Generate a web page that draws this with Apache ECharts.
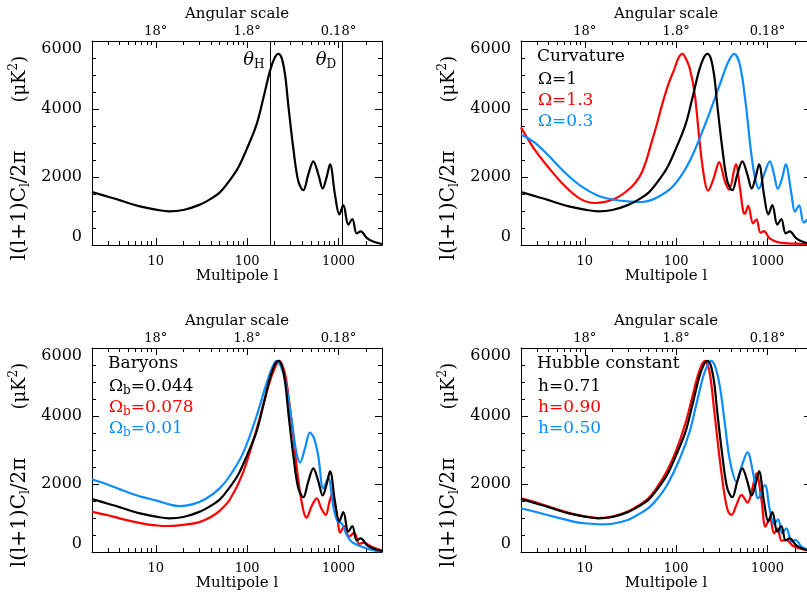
<!DOCTYPE html>
<html>
<head>
<meta charset="utf-8">
<script src="https://cdn.jsdelivr.net/npm/echarts@6/dist/echarts.min.js"></script>
<style>
  html, body { margin: 0; padding: 0; background: #fff; }
  #chart { width: 807px; height: 592px; }
</style>
</head>
<body>
<div id="chart"></div>
<script>
// ---- axes ----
const L_RANGE = [2, 3000];
const Y_RANGE = [0, 6000];
const X_MAJOR = [10, 100, 1000];
const X_MINOR = [3, 4, 5, 6, 7, 8, 9, 20, 30, 40, 50, 60, 70, 80, 90,
                 200, 300, 400, 500, 600, 700, 800, 900, 2000];
const ANGLE_LABELS = ["18°", "1.8°", "0.18°"];
const THETA_MARKS = [{ l: 180, sub: "H" }, { l: 1100, sub: "D" }];

// ---- spectra, [multipole l, l(l+1)Cl/2pi] ----
// fiducial model: Omega=1, Omega_b=0.044, h=0.71
const FIDUCIAL = [[2,1560],[3,1420],[4,1320],[6,1170],[8,1090],[10,1040],[14,990],[20,1030],[30,1180],
  [40,1360],[50,1540],[62,1840],[80,2280],[100,2850],[127,3550],[150,4300],[178,5120],[200,5500],
  [220,5620],[240,5480],[262,4950],[282,4130],[320,2860],[363,1880],[412,1610],[468,2080],[531,2460],
  [602,2080],[673,1660],[740,1980],[809,2370],[918,1470],[1023,900],[1132,1170],[1283,600],[1420,765],
  [1585,340],[1757,400],[2040,210],[2400,100],[3000,30]];

const CURV_CLOSED = [[2,3460],[2.8,2820],[4,2280],[6,1740],[9,1350],[13,1235],[21,1350],[32,1690],
  [40,2020],[46,2400],[52,2880],[60,3450],[72,4230],[84,4800],[95,5150],[106,5500],[117,5620],
  [128,5480],[141,5200],[160,4430],[182,2960],[206,1880],[224,1600],[259,1980],[296,2440],[341,1880],
  [380,1630],[451,2370],[499,1690],[542,1000],[565,920],[615,1150],[697,635],[759,755],[839,360],
  [913,410],[1062,185],[1367,70],[2083,38],[3000,20]];

const CURV_OPEN = [[2,3240],[2.8,3020],[4,2630],[6,2140],[9,1740],[14,1450],[21,1330],[32,1275],
  [42,1265],[61,1390],[93,1735],[141,2470],[215,3650],[301,4720],[372,5380],[432,5620],[499,5300],
  [580,4130],[653,2860],[728,2000],[805,1660],[920,2080],[1062,2460],[1180,2080],[1300,1650],
  [1450,1970],[1585,2370],[1836,1480],[2000,980],[2224,1165],[2500,655],[2800,760],[3000,520]];

const BARY_HIGH = [[2,1180],[3,1080],[4,990],[6,880],[8,815],[10,785],[13,765],[20,800],[30,880],
  [40,1030],[50,1210],[65,1550],[90,2330],[127,3610],[171,4880],[200,5400],[225,5620],[250,5400],
  [271,4980],[320,3410],[380,1750],[449,1010],[510,1350],[578,1580],[650,1280],[726,1090],[800,1500],
  [855,1700],[920,1350],[982,940],[1042,570],[1162,765],[1306,450],[1493,570],[1683,235],[1875,274],
  [2317,157],[3000,40]];

const BARY_LOW = [[2,2140],[3,1980],[4,1850],[5,1750],[7,1620],[10,1520],[14,1400],[18,1350],[25,1400],
  [35,1560],[50,1870],[65,2250],[90,2900],[127,4000],[164,4980],[190,5450],[210,5620],[235,5450],
  [260,5080],[307,3900],[345,2950],[380,2630],[430,3050],[488,3510],[540,3350],[603,2800],[683,1870],
  [774,2170],[879,1330],[982,890],[1087,845],[1233,500],[1399,300],[1800,157],[2518,40],[3000,25]];

const HUB_HIGH = [[2,1580],[3,1450],[4,1340],[6,1190],[8,1100],[10,1050],[14,1000],[20,1040],[30,1200],
  [40,1390],[50,1590],[62,1910],[80,2400],[100,2980],[127,3800],[150,4550],[178,5300],[206,5620],
  [232,5300],[262,4130],[298,2800],[338,1700],[370,1200],[404,1090],[460,1400],[520,1680],[605,1450],
  [680,1850],[759,2310],[861,1530],[952,745],[1062,990],[1185,550],[1290,696],[1427,333],[1618,350],
  [1916,176],[2600,59],[3000,30]];

const HUB_LOW = [[2,1280],[3,1170],[4,1080],[6,960],[8,880],[10,845],[15,815],[20,830],[30,950],
  [40,1130],[50,1300],[62,1560],[80,1980],[111,2780],[141,3550],[166,4330],[198,5160],[222,5500],
  [244,5620],[270,5420],[300,4900],[341,3800],[387,2710],[458,2070],[520,2510],[605,2930],[698,2310],
  [791,1580],[937,1970],[1062,1235],[1185,823],[1311,961],[1448,549],[1618,696],[1836,304],[2032,353],
  [2360,157],[2680,78],[3000,40]];

// ---- panels ----
const PANELS = [
  { title: null, series: [{ name: "fiducial", data: FIDUCIAL, color: "black" }], theta: true },
  { title: "Curvature", series: [
      { name: "Ω=1", data: FIDUCIAL, color: "black" },
      { name: "Ω=1.3", data: CURV_CLOSED, color: "red" },
      { name: "Ω=0.3", data: CURV_OPEN, color: "blue" }] },
  { title: "Baryons", series: [
      { name: "Ω_b=0.044", data: FIDUCIAL, color: "black" },
      { name: "Ω_b=0.078", data: BARY_HIGH, color: "red" },
      { name: "Ω_b=0.01", data: BARY_LOW, color: "blue" }] },
  { title: "Hubble constant", series: [
      { name: "h=0.71", data: FIDUCIAL, color: "black" },
      { name: "h=0.90", data: HUB_HIGH, color: "red" },
      { name: "h=0.50", data: HUB_LOW, color: "blue" }] }
];

const COLORS = { black: "#000000", red: "#ff0000", blue: "#0a8cff" };
const FONT = "'DejaVu Serif', serif";
const GRID_POS = [[92, 41], [521, 41], [92, 348], [521, 348]];
const GRID_W = 290, GRID_H = 204;

const tickLine = { color: "#000", width: 1 };

function xAxesFor(g) {
  const base = {
    gridIndex: g, type: "log", logBase: 10, min: L_RANGE[0], max: L_RANGE[1],
    splitLine: { show: false }, minorTick: { show: false }, minorSplitLine: { show: false }
  };
  return [
    Object.assign({}, base, {
      position: "bottom",
      axisLine: { show: true, onZero: false, lineStyle: tickLine },
      axisTick: { show: true, inside: true, length: 7, customValues: X_MAJOR, lineStyle: tickLine },
      axisLabel: {
        customValues: X_MAJOR, margin: 10, color: "#000", fontSize: 13, fontFamily: FONT,
        formatter: v => String(Math.round(v))
      },
      name: "Multipole l", nameLocation: "middle", nameGap: 24,
      nameTextStyle: { color: "#000", fontSize: 15, fontFamily: FONT }
    }),
    Object.assign({}, base, {
      position: "bottom",
      axisLine: { show: false, onZero: false },
      axisTick: { show: true, inside: true, length: 4, customValues: X_MINOR, lineStyle: tickLine },
      axisLabel: { show: false }
    }),
    Object.assign({}, base, {
      position: "top",
      axisLine: { show: true, onZero: false, lineStyle: tickLine },
      axisTick: { show: true, inside: true, length: 7, customValues: X_MAJOR, lineStyle: tickLine },
      axisLabel: {
        customValues: X_MAJOR, margin: 3, color: "#000", fontSize: 13, fontFamily: FONT,
        formatter: v => ANGLE_LABELS[X_MAJOR.indexOf(Math.round(v))]
      },
      name: "Angular scale", nameLocation: "middle", nameGap: 19,
      nameTextStyle: { color: "#000", fontSize: 15, fontFamily: FONT }
    }),
    Object.assign({}, base, {
      position: "top",
      axisLine: { show: false, onZero: false },
      axisTick: { show: true, inside: true, length: 4, customValues: X_MINOR, lineStyle: tickLine },
      axisLabel: { show: false }
    })
  ];
}

const Y_NAME = "{a|l(l+1)C}{s|l}{a|/2π}{g| }{b|(μK}{p|2}{b|)}{e| }";
const Y_RICH = {
  a: { fontSize: 20, lineHeight: 24, fontFamily: FONT, color: "#000" },
  b: { fontSize: 18, lineHeight: 24, fontFamily: FONT, color: "#000" },
  s: { fontSize: 12, lineHeight: 13, verticalAlign: "bottom", fontFamily: FONT, color: "#000" },
  p: { fontSize: 12, lineHeight: 13, verticalAlign: "top", fontFamily: FONT, color: "#000" },
  g: { width: 48 },
  e: { width: 30 }
};

function yAxesFor(g) {
  const base = {
    gridIndex: g, type: "value", min: Y_RANGE[0], max: Y_RANGE[1], interval: 2000,
    splitLine: { show: false },
    axisLine: { show: true, onZero: false, lineStyle: tickLine },
    axisTick: { show: true, inside: true, length: 7, lineStyle: tickLine },
    minorTick: { show: true, splitNumber: 4, length: 4, lineStyle: tickLine }
  };
  return [
    Object.assign({}, base, {
      position: "left",
      axisLabel: {
        margin: 10, color: "#000", fontSize: 16, fontFamily: FONT,
        formatter: v => String(v),
        verticalAlignMinLabel: "bottom", verticalAlignMaxLabel: "top"
      },
      name: Y_NAME, nameLocation: "middle", nameRotate: 90, nameGap: 60,
      nameTextStyle: { rich: Y_RICH }
    }),
    Object.assign({}, base, { position: "right", axisLabel: { show: false } })
  ];
}

const grid = [], xAxis = [], yAxis = [], series = [], title = [], legend = [];

PANELS.forEach((p, g) => {
  grid.push({ left: GRID_POS[g][0], top: GRID_POS[g][1], width: GRID_W, height: GRID_H,
              containLabel: false, outerBoundsMode: "none" });
  xAxis.push(...xAxesFor(g));
  yAxis.push(...yAxesFor(g));

  p.series.forEach((s) => {
    const item = {
      type: "line", name: s.name, xAxisIndex: g * 4, yAxisIndex: g * 2,
      data: s.data, smooth: 0.35, showSymbol: false, symbol: "none",
      lineStyle: { color: COLORS[s.color], width: 2.2 }, itemStyle: { color: COLORS[s.color] },
      z: s.color === "black" ? 3 : 2
    };
    if (p.theta) {
      item.markLine = {
        silent: true, symbol: "none", animation: false,
        lineStyle: { color: "#000", width: 1, type: "solid" }, label: { show: false },
        data: THETA_MARKS.map(t => ({ xAxis: t.l }))
      };
      item.markPoint = {
        silent: true, symbol: "circle", symbolSize: 0, animation: false,
        label: {
          show: true, position: "left", distance: 6, offset: [0, 19],
          rich: {
            t: { fontSize: 18, fontStyle: "italic", fontFamily: FONT, color: "#000", lineHeight: 22 },
            s: { fontSize: 12, fontFamily: FONT, color: "#000", verticalAlign: "bottom", lineHeight: 12 }
          }
        },
        data: THETA_MARKS.map(t => ({ coord: [t.l, Y_RANGE[1]], label: { formatter: "{t|θ}{s|" + t.sub + "}" } }))
      };
    }
    series.push(item);
  });

  if (p.title) {
    const [gx, gy] = GRID_POS[g];
    title.push({
      text: p.title, left: gx + 16, top: gy + 6, padding: 0,
      textStyle: { color: "#000", fontSize: 17, fontWeight: "normal", fontFamily: FONT, lineHeight: 20 }
    });
    legend.push({
      orient: "vertical", left: gx + 12, top: gy + 29, padding: 0,
      icon: "none", itemWidth: 0, itemHeight: 14, itemGap: 1, selectedMode: false,
      formatter: name => name.replace("_b", "{b|b}"),
      textStyle: { fontSize: 17, fontFamily: FONT, lineHeight: 20 },
      data: p.series.map(s => ({
        name: s.name,
        textStyle: {
          color: COLORS[s.color],
          rich: { b: { color: COLORS[s.color], fontSize: 12, fontFamily: FONT, verticalAlign: "bottom", lineHeight: 14 } }
        }
      }))
    });
  }
});

const chart = echarts.init(document.getElementById("chart"), null, { renderer: "canvas" });
chart.setOption({
  animation: false,
  backgroundColor: "#fff",
  textStyle: { fontFamily: FONT },
  grid, xAxis, yAxis, series, title, legend
});
</script>
</body>
</html>
